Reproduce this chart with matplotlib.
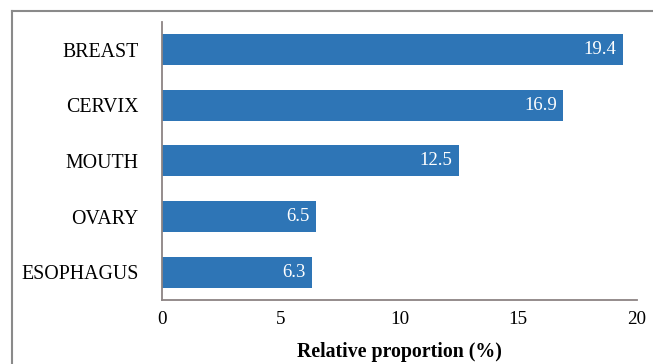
import matplotlib.pyplot as plt
from matplotlib.lines import Line2D

# cancer sites, top to bottom
sites = ["BREAST", "CERVIX", "MOUTH", "OVARY", "ESOPHAGUS"]
proportion = [19.4, 16.9, 12.5, 6.5, 6.3]
xticks = [0, 5, 10, 15, 20]

plt.rcParams['font.family'] = ['Liberation Serif', 'DejaVu Serif']

fig = plt.figure(figsize=(6.53, 3.64), dpi=100)
ax = fig.add_axes([0.248, 0.176, 0.7275, 0.764])

ypos = list(range(len(sites)))[::-1]
bars = ax.barh(ypos, proportion, height=0.56, color='#2E75B6')

for b, v in zip(bars, proportion):
    ax.annotate(f"{v}", xy=(v, b.get_y() + b.get_height() / 2),
                xytext=(-4.5, 0), textcoords='offset points',
                ha='right', va='center', color='white', fontsize=13.5)

ax.set_xlim(0, 20)
ax.set_ylim(-0.5, 4.5)
ax.set_yticks(ypos)
ax.set_yticklabels(sites, fontsize=14.3)
ax.set_xticks(xticks)
ax.set_xticklabels([str(t) for t in xticks], fontsize=13.8)
ax.tick_params(axis='y', length=0, pad=17)
ax.tick_params(axis='x', length=0, pad=8)

for s in ['top', 'right']:
    ax.spines[s].set_visible(False)
for s in ['left', 'bottom']:
    ax.spines[s].set_color('#8c8484')
    ax.spines[s].set_linewidth(1.3)

ax.set_xlabel("Relative proportion (%)", fontsize=14.3, fontweight='bold', labelpad=10)

# outer frame (top and left visible in the crop)
fig.add_artist(Line2D([12 / 653, 1.0], [1 - 11 / 364, 1 - 11 / 364],
                      transform=fig.transFigure, color='#8a8a8a', lw=1.5))
fig.add_artist(Line2D([12 / 653, 12 / 653], [0.0, 1 - 11 / 364],
                      transform=fig.transFigure, color='#8a8a8a', lw=1.5))

fig.savefig("out.png", dpi=100)
